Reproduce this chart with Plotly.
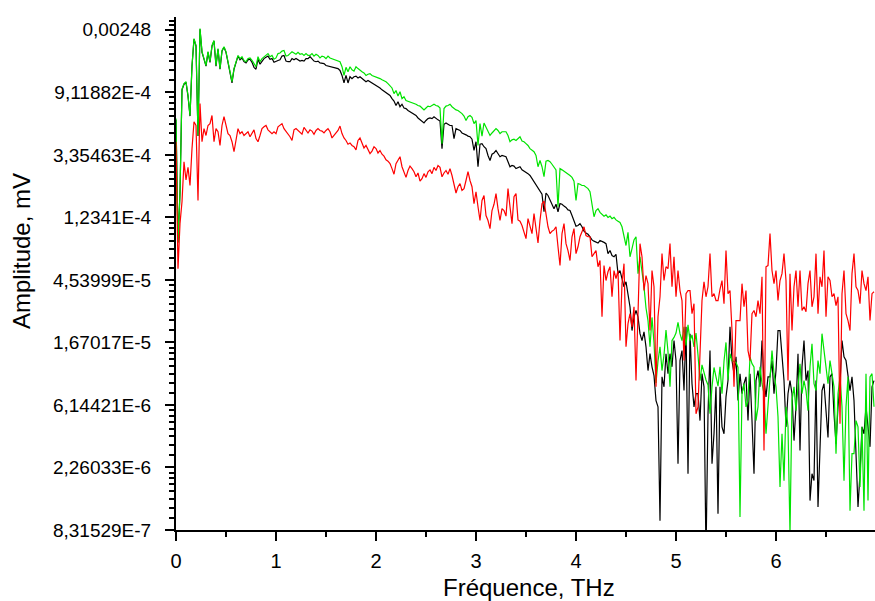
import numpy as np
import plotly.graph_objects as go

# ---------------- data (ln of amplitude in mV, sampled every 0.02 THz) ----------------
freq_step_thz = 0.02

black_ln = [
    -7.44, -9.40, -8.60, -6.96, -6.87, -6.84, -7.06, -7.38, -6.58, -6.15,
    -6.26, -7.70, -5.99, -6.36, -6.47, -6.58, -6.36, -6.52, -6.26, -6.18,
    -6.58, -6.31, -6.63, -6.34, -6.28, -6.36, -6.52, -6.68, -6.85, -6.63,
    -6.50, -6.42, -6.48, -6.45, -6.51, -6.53, -6.48, -6.47, -6.52, -6.60,
    -6.63, -6.47, -6.55, -6.50, -6.46, -6.44, -6.42, -6.47, -6.46, -6.52,
    -6.50, -6.49, -6.48, -6.42, -6.41, -6.50, -6.51, -6.51, -6.46, -6.48,
    -6.46, -6.48, -6.50, -6.49, -6.50, -6.46, -6.46, -6.43, -6.46, -6.50,
    -6.51, -6.50, -6.53, -6.54, -6.54, -6.57, -6.58, -6.59, -6.60, -6.60,
    -6.62, -6.62, -6.65, -6.73, -6.85, -6.73, -6.85, -6.75, -6.78, -6.75,
    -6.74, -6.77, -6.75, -6.78, -6.81, -6.83, -6.81, -6.83, -6.85, -6.86,
    -6.89, -6.90, -6.93, -6.96, -6.98, -7.01, -7.03, -7.05, -7.10, -7.14,
    -7.21, -7.15, -7.23, -7.19, -7.25, -7.26, -7.29, -7.31, -7.33, -7.35,
    -7.37, -7.41, -7.44, -7.46, -7.49, -7.45, -7.42, -7.41, -7.42, -7.39,
    -7.42, -7.44, -7.46, -7.90, -7.51, -7.49, -7.51, -7.53, -7.53, -7.74,
    -7.58, -7.60, -7.61, -7.65, -7.66, -7.68, -7.70, -7.71, -7.75, -7.93,
    -7.79, -8.19, -7.83, -7.82, -7.87, -7.90, -8.01, -8.09, -7.99, -7.97,
    -7.93, -7.99, -8.03, -8.01, -8.02, -8.03, -8.11, -8.19, -8.17, -8.18,
    -8.22, -8.20, -8.19, -8.24, -8.26, -8.27, -8.30, -8.33, -8.38, -8.42,
    -8.47, -8.54, -8.59, -8.63, -8.91, -8.61, -8.65, -8.73, -8.81, -8.86,
    -8.79, -8.91, -8.78, -8.79, -8.82, -8.84, -8.88, -8.89, -8.97, -9.06,
    -9.14, -9.13, -9.10, -9.15, -9.22, -9.25, -9.27, -9.31, -9.36, -9.38,
    -9.39, -9.41, -9.37, -9.38, -9.40, -9.42, -9.58, -9.53, -9.61, -9.63,
    -9.59, -9.90, -9.85, -9.98, -10.11, -10.03, -10.22, -10.43, -10.81, -10.59,
    -10.49, -10.59, -10.86, -10.97, -10.83, -11.07, -11.45, -11.18, -11.39, -11.53,
    -11.93, -12.03, -13.85, -11.55, -11.71, -11.18, -11.50, -11.18, -11.39, -10.97,
    -11.29, -12.94, -11.29, -11.13, -11.77, -10.75, -13.10, -10.86, -11.66, -12.03,
    -11.82, -11.82, -12.25, -11.50, -11.71, -14.40, -12.14, -11.13, -12.94, -12.46,
    -11.71, -13.74, -11.71, -12.35, -12.46, -11.87, -11.61, -10.75, -11.29, -11.50,
    -11.23, -11.93, -11.50, -11.82, -11.66, -11.55, -12.25, -11.50, -12.25, -13.10,
    -11.61, -11.45, -11.71, -10.97, -11.61, -11.87, -11.55, -11.55, -11.29, -11.82,
    -11.45, -10.81, -10.81, -11.18, -11.61, -12.35, -11.82, -11.61, -11.82, -12.57,
    -12.03, -11.18, -12.73, -11.39, -10.97, -11.61, -11.45, -13.53, -13.10, -13.21,
    -11.61, -13.63, -12.67, -11.77, -11.66, -12.03, -12.52, -11.55, -11.50, -12.14,
    -12.62, -12.03, -11.66, -10.97, -11.23, -11.29, -11.53, -11.77, -11.55, -11.93,
    -12.78, -13.63, -13.10, -12.35, -12.46, -12.03, -12.35, -12.67, -11.71, -11.61,
]

green_ln = [
    -7.42, -9.40, -8.60, -6.95, -6.86, -6.83, -7.05, -7.37, -6.57, -6.14,
    -6.25, -7.69, -5.98, -6.35, -6.46, -6.57, -6.35, -6.51, -6.25, -6.17,
    -6.57, -6.30, -6.62, -6.33, -6.27, -6.35, -6.51, -6.67, -6.83, -6.62,
    -6.49, -6.41, -6.46, -6.43, -6.49, -6.51, -6.46, -6.45, -6.49, -6.54,
    -6.59, -6.43, -6.51, -6.46, -6.43, -6.40, -6.38, -6.43, -6.41, -6.47,
    -6.45, -6.38, -6.37, -6.34, -6.33, -6.42, -6.41, -6.38, -6.35, -6.37,
    -6.39, -6.36, -6.39, -6.38, -6.41, -6.38, -6.41, -6.41, -6.38, -6.42,
    -6.39, -6.41, -6.45, -6.42, -6.43, -6.46, -6.42, -6.45, -6.46, -6.48,
    -6.49, -6.50, -6.51, -6.59, -6.73, -6.60, -6.67, -6.59, -6.64, -6.66,
    -6.59, -6.62, -6.65, -6.67, -6.69, -6.73, -6.71, -6.70, -6.73, -6.74,
    -6.75, -6.77, -6.78, -6.80, -6.81, -6.83, -6.86, -6.89, -6.93, -7.02,
    -6.97, -7.06, -6.99, -7.10, -7.07, -7.13, -7.14, -7.15, -7.17, -7.18,
    -7.19, -7.21, -7.22, -7.25, -7.28, -7.25, -7.22, -7.23, -7.21, -7.19,
    -7.21, -7.22, -7.25, -7.82, -7.26, -7.22, -7.21, -7.19, -7.23, -7.26,
    -7.28, -7.29, -7.31, -7.34, -7.38, -7.45, -7.39, -7.37, -7.40, -7.50,
    -7.45, -7.85, -7.50, -7.70, -7.49, -7.55, -7.63, -7.69, -7.65, -7.62,
    -7.58, -7.61, -7.66, -7.63, -7.63, -7.63, -7.69, -7.79, -7.76, -7.75,
    -7.77, -7.74, -7.71, -7.78, -7.79, -7.82, -7.85, -7.90, -7.92, -7.95,
    -8.01, -8.19, -8.09, -8.19, -8.35, -8.10, -8.09, -8.11, -8.15, -8.19,
    -8.24, -8.83, -8.22, -8.24, -8.26, -8.29, -8.31, -8.33, -8.36, -8.42,
    -8.73, -8.46, -8.47, -8.49, -8.49, -8.51, -8.54, -8.59, -8.78, -8.99,
    -8.89, -8.86, -8.92, -8.95, -8.98, -8.96, -9.00, -8.98, -9.02, -9.00,
    -9.04, -9.06, -9.08, -9.15, -9.30, -9.45, -9.24, -9.63, -9.50, -9.36,
    -9.31, -9.90, -9.63, -9.85, -10.11, -10.45, -10.65, -11.07, -10.60, -11.00,
    -11.65, -11.30, -11.07, -11.45, -11.20, -10.80, -11.15, -11.71, -10.97, -10.92,
    -10.85, -10.68, -10.86, -10.97, -10.75, -11.05, -10.72, -10.97, -10.88, -11.07,
    -10.85, -11.20, -11.61, -11.36, -11.50, -11.60, -11.68, -12.14, -11.71, -11.40,
    -11.55, -11.70, -11.39, -11.82, -11.30, -11.00, -11.60, -11.18, -11.29, -11.30,
    -11.32, -11.40, -13.79, -11.82, -11.66, -12.03, -11.93, -11.23, -11.34, -11.39,
    -12.25, -12.03, -11.39, -11.66, -11.82, -12.46, -11.98, -11.50, -11.13, -11.50,
    -11.71, -12.19, -13.31, -12.46, -13.21, -12.03, -12.35, -14.06, -11.93, -11.71,
    -12.09, -11.71, -11.34, -11.82, -11.61, -11.77, -12.09, -11.39, -11.02, -11.66,
    -11.77, -11.29, -11.50, -10.86, -11.13, -11.34, -11.66, -11.29, -11.50, -11.71,
    -12.78, -11.82, -11.55, -12.03, -13.21, -12.03, -11.55, -13.69, -12.78, -12.78,
    -12.25, -12.35, -13.31, -12.35, -13.69, -11.50, -13.53, -11.55, -11.50, -12.03,
]

red_ln = [
    -7.79, -9.82, -9.10, -8.75, -8.11, -8.40, -8.20, -8.49, -7.90, -7.47,
    -7.53, -8.73, -7.18, -7.79, -7.58, -7.69, -7.53, -7.50, -7.37, -7.79,
    -7.58, -7.63, -7.85, -7.53, -7.39, -7.53, -7.66, -7.69, -7.79, -7.95,
    -7.74, -7.58, -7.66, -7.63, -7.69, -7.66, -7.63, -7.71, -7.66, -7.60,
    -7.74, -7.79, -7.69, -7.58, -7.55, -7.53, -7.60, -7.63, -7.66, -7.63,
    -7.66, -7.55, -7.53, -7.50, -7.58, -7.62, -7.66, -7.71, -7.77, -7.60,
    -7.58, -7.61, -7.63, -7.67, -7.56, -7.61, -7.65, -7.60, -7.62, -7.67,
    -7.61, -7.58, -7.61, -7.62, -7.65, -7.61, -7.58, -7.63, -7.73, -7.69,
    -7.65, -7.61, -7.54, -7.66, -7.73, -7.77, -7.83, -7.81, -7.85, -7.87,
    -7.92, -7.77, -7.73, -7.82, -7.89, -7.85, -7.93, -7.98, -7.94, -7.87,
    -7.90, -7.97, -7.93, -7.99, -8.02, -8.08, -8.10, -8.14, -8.22, -8.31,
    -8.14, -8.08, -8.03, -8.19, -8.27, -8.36, -8.25, -8.18, -8.22, -8.27,
    -8.35, -8.29, -8.42, -8.38, -8.30, -8.36, -8.27, -8.24, -8.30, -8.20,
    -8.25, -8.17, -8.20, -8.35, -8.29, -8.25, -8.31, -8.22, -8.33, -8.49,
    -8.61, -8.51, -8.46, -8.57, -8.54, -8.41, -8.27, -8.41, -8.51, -8.78,
    -8.59, -8.83, -9.05, -8.73, -8.65, -8.97, -9.05, -9.18, -8.89, -8.79,
    -8.62, -8.86, -9.05, -8.86, -8.89, -8.98, -8.54, -8.83, -9.10, -8.67,
    -8.62, -9.04, -9.06, -9.13, -9.26, -9.34, -9.02, -9.15, -9.26, -8.94,
    -9.15, -9.41, -9.05, -8.78, -8.74, -8.99, -9.15, -9.26, -9.22, -9.20,
    -9.15, -9.47, -9.77, -9.26, -9.10, -9.42, -9.53, -9.69, -9.31, -9.18,
    -9.58, -9.47, -9.31, -9.23, -9.15, -9.29, -9.31, -9.31, -9.63, -9.58,
    -9.53, -9.79, -9.69, -10.59, -9.77, -10.01, -9.87, -9.79, -10.27, -9.85,
    -9.98, -9.85, -10.97, -10.06, -9.74, -11.07, -10.70, -10.54, -10.75, -10.43,
    -11.61, -10.54, -9.42, -9.63, -10.17, -9.93, -10.06, -10.81, -9.85, -10.11,
    -11.71, -10.59, -10.27, -9.58, -10.01, -9.79, -9.82, -9.42, -10.11, -9.63,
    -10.27, -9.85, -10.17, -10.33, -11.29, -10.22, -10.17, -10.17, -10.54, -10.38,
    -12.14, -12.03, -11.18, -10.33, -10.03, -10.27, -10.11, -9.58, -10.27, -10.22,
    -10.33, -10.33, -10.15, -10.01, -10.38, -9.53, -10.22, -10.17, -10.81, -11.71,
    -10.65, -10.65, -10.65, -10.06, -10.43, -10.17, -11.13, -11.29, -10.54, -10.49,
    -10.59, -10.33, -10.54, -9.95, -12.73, -9.79, -9.77, -9.26, -9.85, -10.06,
    -9.85, -10.33, -10.01, -9.90, -9.58, -10.01, -11.61, -9.90, -10.81, -10.11,
    -9.85, -10.43, -9.85, -10.49, -10.43, -10.51, -10.06, -9.85, -10.43, -10.27,
    -9.58, -10.54, -9.95, -10.11, -9.53, -10.59, -9.95, -10.01, -10.27, -10.22,
    -10.41, -10.27, -12.30, -10.22, -9.85, -10.54, -10.65, -10.81, -9.90, -9.58,
    -10.11, -10.17, -10.38, -9.85, -10.06, -10.17, -9.95, -10.65, -10.22, -10.19,
]

freq_thz = np.round(np.arange(len(black_ln)) * freq_step_thz, 3)

# axis ticks (natural-log scale: ticks at e^n)
y_tick_exponents = [-14, -13, -12, -11, -10, -9, -8, -7, -6]
y_tick_labels = ["8,31529E-7", "2,26033E-6", "6,14421E-6", "1,67017E-5", "4,53999E-5",
                 "1,2341E-4", "3,35463E-4", "9,11882E-4", "0,00248"]
x_tick_values = [0, 1, 2, 3, 4, 5, 6]
x_tick_labels = ["0", "1", "2", "3", "4", "5", "6"]

# minor ticks: linear subdivisions (8 parts) between consecutive major values
minor_vals = []
for n in y_tick_exponents[:-1]:
    lo, hi = np.exp(n), np.exp(n + 1)
    for k in range(1, 8):
        minor_vals.append(float(np.log(lo + k * (hi - lo) / 8)))
lo, hi = np.exp(-7), np.exp(-6)
for k in range(1, 4):
    minor_vals.append(float(np.log(hi + k * (hi - lo) / 8)))

FONT = "Arial, 'Liberation Sans', sans-serif"

fig = go.Figure()
fig.add_trace(go.Scatter(x=freq_thz, y=black_ln, mode="lines",
                         line=dict(color="#000000", width=1.2), showlegend=False))
fig.add_trace(go.Scatter(x=freq_thz, y=green_ln, mode="lines",
                         line=dict(color="#00e400", width=1.2), showlegend=False))
fig.add_trace(go.Scatter(x=freq_thz, y=red_ln, mode="lines",
                         line=dict(color="#ff0000", width=1.2), showlegend=False))

W, H = 875, 601
L, R, T, B = 176, 0, 17, 71
pw, ph = W - L - R, H - T - B

fig.update_layout(
    width=W, height=H,
    margin=dict(l=L, r=R, t=T, b=B, pad=0),
    paper_bgcolor="white", plot_bgcolor="white",
    font=dict(family=FONT, color="black"),
    xaxis=dict(
        range=[0, 6.99], showgrid=False, zeroline=False,
        showline=True, linecolor="black", linewidth=2,
        ticks="outside", ticklen=9, tickwidth=1.5, tickcolor="black",
        tickmode="array", tickvals=x_tick_values, ticktext=x_tick_labels,
        tickfont=dict(size=20, family=FONT, color="black"),
        ticklabelstandoff=3,
        minor=dict(dtick=0.5, tick0=0, ticks="outside", ticklen=5,
                   tickwidth=1.5, tickcolor="black", showgrid=False),
    ),
    yaxis=dict(
        range=[-14, -5.795], showgrid=False, zeroline=False,
        showline=True, linecolor="black", linewidth=2,
        ticks="outside", ticklen=9, tickwidth=1.5, tickcolor="black",
        tickmode="array", tickvals=y_tick_exponents, ticktext=y_tick_labels,
        tickfont=dict(size=19, family=FONT, color="black"),
        ticklabelstandoff=10,
        minor=dict(tickmode="array", tickvals=minor_vals, ticks="outside",
                   ticklen=5, tickwidth=1.5, tickcolor="black", showgrid=False),
    ),
    annotations=[
        dict(text="Fréquence, THz", xref="paper", yref="paper",
             x=(529 - L) / pw, y=(H - B - 587) / ph,
             xanchor="center", yanchor="middle", showarrow=False,
             font=dict(size=24, family=FONT, color="black")),
        dict(text="Amplitude, mV", xref="paper", yref="paper",
             x=(21 - L) / pw, y=(H - B - 251) / ph, textangle=-90,
             xanchor="center", yanchor="middle", showarrow=False,
             font=dict(size=24, family=FONT, color="black")),
    ],
)

fig.write_html("out.html")
